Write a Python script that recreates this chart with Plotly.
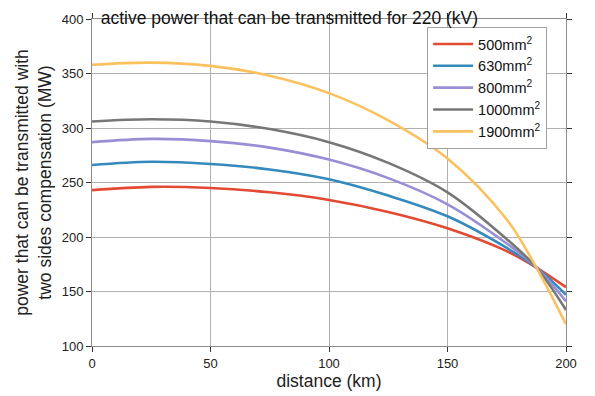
import plotly.graph_objects as go

distance = [0, 25, 50, 75, 100, 125, 150, 175, 187.5, 200]
p_500 = [243, 246, 245, 241, 234, 223, 208, 187, 172, 154]
p_630 = [266, 269, 267, 262, 253, 238, 219, 190, 172, 147]
p_800 = [287, 290, 288, 282, 271, 254, 230, 194, 172, 141]
p_1000 = [306, 308, 306, 299, 287, 268, 241, 198, 172, 133]
p_1900 = [358, 360, 357, 348, 332, 307, 272, 216, 172, 120]

labels = ["500mm<sup>2</sup>", "630mm<sup>2</sup>", "800mm<sup>2</sup>",
          "1000mm<sup>2</sup>", "1900mm<sup>2</sup>"]
series = [p_500, p_630, p_800, p_1000, p_1900]
colors = ["#E24A33", "#348ABD", "#988ED5", "#777777", "#FBC15E"]

FONT = "Liberation Sans, Arial, sans-serif"

fig = go.Figure()
for lab, ys, c in zip(labels, series, colors):
    fig.add_trace(go.Scatter(x=distance, y=ys, mode="lines", name=lab,
                             line=dict(color=c, width=2.6, shape="spline", smoothing=1.0)))

axis_common = dict(showline=True, linecolor="#8c8c8c", linewidth=1, mirror="ticks",
                   ticks="outside", ticklen=5, tickcolor="#333333", tickwidth=1,
                   showgrid=True, gridcolor="#b0b0b0", gridwidth=1, zeroline=False,
                   automargin=False,
                   tickfont=dict(size=13, color="#222222", family=FONT))

fig.update_layout(
    width=595, height=396,
    margin=dict(l=84, r=37, t=11, b=58),
    paper_bgcolor="white", plot_bgcolor="white",
    font=dict(family=FONT, color="#222222"),
    title=dict(text="active power that can be transmitted for 220 (kV)",
               x=0.473, xanchor="center", y=0.99, yanchor="top", yref="container",
               pad=dict(t=0, b=0, l=0, r=0),
               font=dict(size=17.5, family=FONT, color="#111111")),
    xaxis=dict(range=[0, 200], tickvals=[0, 50, 100, 150, 200],
               title=dict(text="distance (km)", font=dict(size=17.5, family=FONT), standoff=5),
               **axis_common),
    yaxis=dict(range=[100, 400], tickvals=[100, 150, 200, 250, 300, 350, 400],
               title=dict(text="power that can be transmitted with<br>two sides compensation (MW)",
                          font=dict(size=17.5, family=FONT), standoff=5),
               **axis_common),
    legend=dict(x=0.707, y=0.9755, xanchor="left", yanchor="top",
                bgcolor="white", bordercolor="#a0a0a0", borderwidth=1,
                font=dict(size=14.5, family=FONT, color="#111111"),
                itemwidth=40, tracegroupgap=0),
    showlegend=True,
)

fig.write_html("out.html")
